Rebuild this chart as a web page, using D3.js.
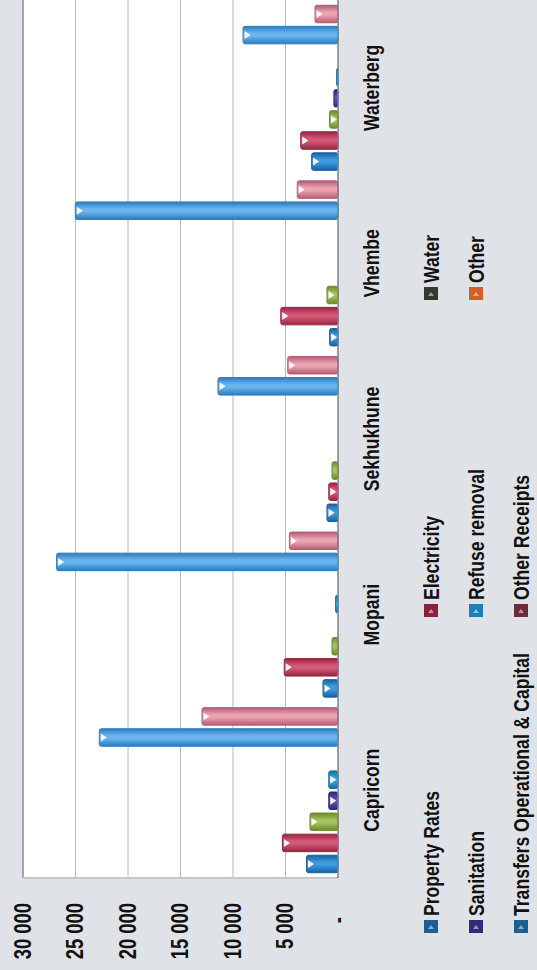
<!DOCTYPE html>
<html>
<head>
<meta charset="utf-8">
<script src="https://cdnjs.cloudflare.com/ajax/libs/d3/7.8.5/d3.min.js"></script>
<style>
  html, body { margin: 0; padding: 0; background: #dfe2e7; }
  svg { display: block; }
  text { font-family: "Liberation Sans", Arial, sans-serif; font-weight: bold; fill: #111; }
</style>
</head>
<body>
<script>
// ---- data ----
const categories = ["Capricorn", "Mopani", "Sekhukhune", "Vhembe", "Waterberg"];
const seriesNames = ["Property Rates", "Electricity", "Water", "Sanitation", "Refuse removal", "Other", "Transfers Operational & Capital", "Other Receipts"];
const propertyRates = [3000, 1430, 1050, 800, 2510];
const electricity   = [5290, 5120, 880, 5450, 3550];
const water         = [2670, 570, 570, 1050, 810];
const sanitation    = [880, 0, 0, 0, 390];
const refuseRemoval = [880, 230, 0, 0, 130];
const other         = [0, 0, 0, 0, 0];
const transfers     = [22730, 26800, 11430, 25020, 9040];
const otherReceipts = [12950, 4630, 4790, 3880, 2190];
const tickValues = [0, 5000, 10000, 15000, 20000, 25000, 30000];
const tickLabels = ["-", "5 000", "10 000", "15 000", "20 000", "25 000", "30 000"];

const seriesValues = [propertyRates, electricity, water, sanitation, refuseRemoval, other, transfers, otherReceipts];
const edgeColors   = ["#1a5f9e", "#9c2240", "#6b8a2e", "#2f2578", "#136f9e", "#b5501c", "#2a7bbd", "#b55c72"];
const centerColors = ["#3d9be0", "#d15a78", "#a5c25c", "#5b50b5", "#3ea5d6", "#e8874c", "#6ab5ee", "#eba3b4"];
const legendColors = ["#1d5d96", "#8e1f3c", "#2f3b2c", "#35297a", "#1a80b8", "#d0602a", "#1f5f8f", "#6a2d3e"];

// ---- layout (drawn in unrotated frame, then rotated -90deg) ----
const IW = 537, IH = 970;
const SX = 0.8; // horizontal text compression
const FS = 22;

const svg = d3.select("body").append("svg").attr("width", IW).attr("height", IH);
svg.append("rect").attr("width", IW).attr("height", IH).attr("fill", "#dfe2e7");

const defs = svg.append("defs");
seriesNames.forEach((s, i) => {
  const gr = defs.append("linearGradient").attr("id", "g" + i)
    .attr("x1", 0).attr("x2", 1).attr("y1", 0).attr("y2", 0);
  gr.append("stop").attr("offset", "0%").attr("stop-color", edgeColors[i]);
  gr.append("stop").attr("offset", "45%").attr("stop-color", centerColors[i]);
  gr.append("stop").attr("offset", "60%").attr("stop-color", centerColors[i]);
  gr.append("stop").attr("offset", "100%").attr("stop-color", edgeColors[i]);
});

const g = svg.append("g").attr("transform", `translate(0,${IH}) rotate(-90)`);

const uLeft = 92, uRight = 970;
const x0 = d3.scaleBand().domain(categories).range([uLeft, uRight]).paddingInner(0).paddingOuter(0);
const x1 = d3.scaleBand().domain(seriesNames).range([0, x0.bandwidth()]).paddingInner(0.17).paddingOuter(0.25);
const y = d3.scaleLinear().domain([0, 30000]).range([338, 23]);

// plot area
g.append("rect").attr("x", uLeft).attr("y", y(30000)).attr("width", 990 - uLeft).attr("height", y(0) - y(30000))
  .attr("fill", "#ffffff");

// gridlines
g.append("g").selectAll("line").data(tickValues.filter(t => t > 0)).join("line")
  .attr("x1", uLeft).attr("x2", 990)
  .attr("y1", d => y(d)).attr("y2", d => y(d))
  .attr("stroke", d => d === 30000 ? "#a3a6ab" : "#b8b8b8")
  .attr("stroke-width", d => d === 30000 ? 2 : 1);

// bottom border of plot
g.append("line").attr("x1", uLeft).attr("x2", uLeft).attr("y1", y(30000)).attr("y2", y(0))
  .attr("stroke", "#c4c7cc").attr("stroke-width", 2);

// bars
const groups = g.append("g").selectAll("g").data(categories).join("g")
  .attr("transform", d => `translate(${x0(d)},0)`);

groups.each(function(cat, ci) {
  const grp = d3.select(this);
  seriesNames.forEach((s, si) => {
    const v = seriesValues[si][ci];
    if (v <= 0) return;
    const bx = x1(s), bw = x1.bandwidth();
    const top = y(v);
    grp.append("rect")
      .attr("x", bx).attr("y", top).attr("width", bw).attr("height", y(0) - top)
      .attr("rx", 2).attr("fill", `url(#g${si})`)
      .attr("stroke", edgeColors[si]).attr("stroke-width", 1);
    if (y(0) - top > 6) {
      const cx = bx + bw / 2;
      grp.append("path")
        .attr("d", `M${cx - 4},${top + 1.5} L${cx + 4},${top + 1.5} L${cx},${top + 7.5} Z`)
        .attr("fill", "#ffffff").attr("opacity", 0.92);
    }
  });
});

// baseline (value 0)
g.append("line").attr("x1", uLeft).attr("x2", 990).attr("y1", y(0)).attr("y2", y(0))
  .attr("stroke", "#7d8086").attr("stroke-width", 1.5);

// value axis
const axis = d3.axisLeft(y).tickValues(tickValues).tickSize(0).tickPadding(25)
  .tickFormat((d, i) => tickLabels[i]);
const ax = g.append("g").attr("transform", `translate(${uLeft},0)`).call(axis);
ax.select(".domain").remove();
ax.selectAll("text")
  .style("font-family", '"Liberation Sans", Arial, sans-serif')
  .style("font-weight", "bold")
  .style("font-size", "23px")
  .attr("fill", "#111")
  .attr("transform", `scale(${SX},1)`)
  .attr("x", d => (d === 0 ? -39 : -25) / SX);

// category labels
g.append("g").selectAll("text").data(categories).join("text")
  .attr("transform", `scale(${SX},1)`)
  .attr("x", d => (x0(d) + x0.bandwidth() / 2) / SX)
  .attr("y", 371).attr("dy", "0.35em")
  .attr("text-anchor", "middle")
  .style("font-size", FS + "px")
  .text(d => d);

// legend
const legRows = [431, 476, 521];
const legCols = [37, 353, 670];
const leg = g.append("g").selectAll("g").data(seriesNames).join("g")
  .attr("transform", (d, i) => `translate(${legCols[i % 3]},${legRows[Math.floor(i / 3)]})`);
leg.append("rect").attr("x", 0).attr("y", -7).attr("width", 13).attr("height", 14)
  .attr("fill", (d, i) => legendColors[i]);
leg.append("path").attr("d", "M4,-3 L4,3 L8,0 Z").attr("fill", "#ffffff").attr("opacity", 0.5);
leg.append("text")
  .attr("transform", `scale(${SX},1)`)
  .attr("x", 17 / SX).attr("y", 0).attr("dy", "0.35em")
  .style("font-size", FS + "px")
  .text(d => d);
</script>
</body>
</html>
